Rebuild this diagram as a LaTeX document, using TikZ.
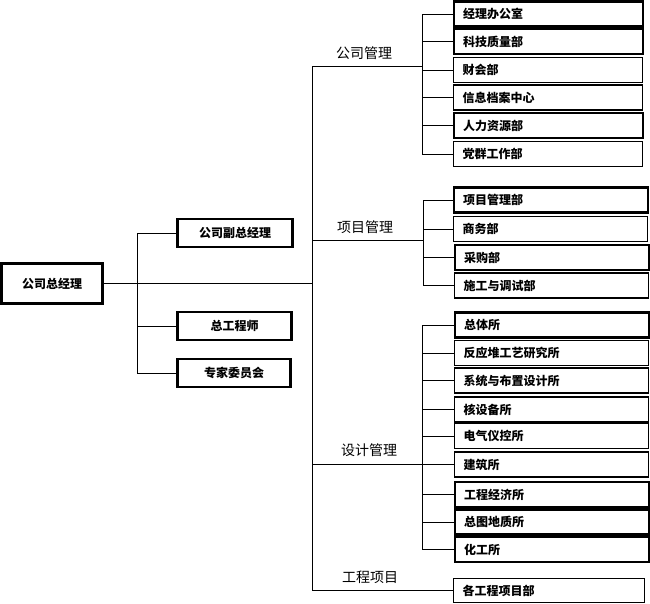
\documentclass[tikz,border=0pt]{standalone}
\usepackage{fontspec}
\setmainfont{Noto Sans CJK SC}
\tikzset{
  conn/.style={line width=1pt},
  boxbase/.style={draw, inner ysep=0pt, font=\bfseries\fontsize{12}{12}\selectfont},
  heavy/.style={boxbase, line width=2.2pt},
  light/.style={boxbase, line width=1.1pt},
  leftbox/.style={align=center, inner xsep=0pt, minimum height=28pt},
  deptA/.style={anchor=west, align=left, inner xsep=9pt, text width=171pt, minimum height=25pt},
  deptB/.style={anchor=west, align=left, inner xsep=9pt, text width=176pt, minimum height=25pt},
  grp/.style={font=\fontsize{14}{14}\selectfont, inner sep=0pt}
}
\begin{document}
\begin{tikzpicture}[x=1pt,y=-1pt]
\useasboundingbox (0,0) rectangle (650,603);

% left column
\node[heavy, leftbox, minimum width=101pt, minimum height=40pt] (ceo) at (52,283.5) {公司总经理};
\node[heavy, leftbox, minimum width=115pt] (vp) at (235,233) {公司副总经理};
\node[heavy, leftbox, minimum width=114pt] (ce) at (234.5,326) {总工程师};
\node[heavy, leftbox, minimum width=113pt] (ex) at (234,373) {专家委员会};

\coordinate (lv) at (137,0);
\coordinate (tr) at (312,0);
\draw[conn] (ceo.east) -- (ceo.east -| tr);
\draw[conn] (vp.west -| lv) -- (ex.west -| lv);
\draw[conn] (vp.west) -- (vp.west -| lv);
\draw[conn] (ce.west) -- (ce.west -| lv);
\draw[conn] (ex.west) -- (ex.west -| lv);

% group 1: 公司管理
\node[heavy, deptA] (a1) at (453,14) {经理办公室};
\node[heavy, deptA] (a2) at (453,41.5) {科技质量部};
\node[light, deptA] (a3) at (453,70) {财会部};
\node[light, deptA] (a4) at (453,97.5) {信息档案中心};
\node[heavy, deptA] (a5) at (453,125.5) {人力资源部};
\node[light, deptA] (a6) at (453,154) {党群工作部};

% group 2: 项目管理
\node[heavy, deptB] (b1) at (453,200) {项目管理部};
\node[light, deptB] (b2) at (453,229) {商务部};
\node[heavy, deptB] (b3) at (454,257.5) {采购部};
\node[light, deptB] (b4) at (454,285.5) {施工与调试部};

% group 3: 设计管理
\node[heavy, deptB] (c1) at (454,325) {总体所};
\node[light, deptB] (c2) at (454,353) {反应堆工艺研究所};
\node[light, deptB] (c3) at (454,380.5) {系统与布置设计所};
\node[light, deptB] (c4) at (454,409.5) {核设备所};
\node[light, deptB] (c5) at (454,436) {电气仪控所};
\node[light, deptB] (c6) at (454,464.5) {建筑所};
\node[heavy, deptB] (c7) at (454,494.5) {工程经济所};
\node[heavy, deptB] (c8) at (454,522) {总图地质所};
\node[heavy, deptB] (c9) at (454,549.5) {化工所};

% group 4: 工程项目
\node[light, deptB, text width=173pt, minimum height=24pt] (d1) at (453,590.5) {各工程项目部};

% group labels
\node[grp] (g1l) at (364,53) {公司管理};
\node[grp] (g2l) at (365,227) {项目管理};
\node[grp] (g3l) at (369,450) {设计管理};
\node[grp] (g4l) at (370,577) {工程项目};

% junction coordinates
\coordinate (j1) at (312,66);
\coordinate (k1) at (422,66);
\coordinate (j2) at (312,240);
\coordinate (k2) at (423,240);
\coordinate (j3) at (312,464);
\coordinate (k3) at (422,464);

% trunk
\draw[conn] (j1) -- (d1.west -| tr);
\draw[conn] (j1) -- (k1);
\draw[conn] (j2) -- (k2);
\draw[conn] (j3) -- (k3);
\draw[conn] (d1.west -| tr) -- (d1.west);

% group 1 bus
\draw[conn] (a1.west -| k1) -- (a6.west -| k1);
\foreach \n in {a1,a2,a3,a4,a5,a6} \draw[conn] (\n.west -| k1) -- (\n.west);
% group 2 bus
\draw[conn] (b1.west -| k2) -- (b4.west -| k2);
\foreach \n in {b1,b2,b3,b4} \draw[conn] (\n.west -| k2) -- (\n.west);
% group 3 bus
\draw[conn] (c1.west -| k3) -- (c9.west -| k3);
\foreach \n in {c1,c2,c3,c4,c5,c6,c7,c8,c9} \draw[conn] (\n.west -| k3) -- (\n.west);
\end{tikzpicture}
\end{document}
